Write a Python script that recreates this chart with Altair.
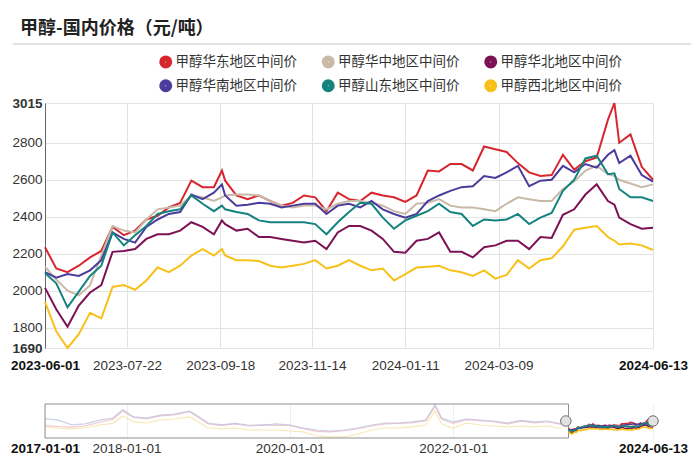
import altair as alt
import pandas as pd

# ---------------- data ----------------
dates = [
    "2023-06-01", "2023-06-08", "2023-06-15", "2023-06-22", "2023-06-29", "2023-07-06",
    "2023-07-13", "2023-07-20", "2023-07-27", "2023-08-03", "2023-08-10", "2023-08-17",
    "2023-08-24", "2023-08-31", "2023-09-07", "2023-09-14", "2023-09-19", "2023-09-21",
    "2023-09-28", "2023-10-05", "2023-10-12", "2023-10-19", "2023-10-26", "2023-11-02",
    "2023-11-09", "2023-11-16", "2023-11-23", "2023-11-30", "2023-12-07", "2023-12-14",
    "2023-12-21", "2023-12-28", "2024-01-04", "2024-01-11", "2024-01-18", "2024-01-25",
    "2024-02-01", "2024-02-08", "2024-02-15", "2024-02-22", "2024-02-29", "2024-03-07",
    "2024-03-14", "2024-03-21", "2024-03-28", "2024-04-04", "2024-04-11", "2024-04-18",
    "2024-04-25", "2024-05-02", "2024-05-09", "2024-05-16", "2024-05-20", "2024-05-23",
    "2024-05-30", "2024-06-06", "2024-06-13",
]
east = [2235, 2120, 2100, 2135, 2180, 2215, 2345, 2300, 2325, 2385, 2405, 2450, 2475, 2595,
        2560, 2560, 2650, 2595, 2515, 2495, 2515, 2485, 2460, 2475, 2515, 2505, 2430, 2530,
        2495, 2485, 2530, 2515, 2505, 2480, 2515, 2650, 2645, 2685, 2685, 2650, 2780, 2765,
        2750, 2690, 2640, 2620, 2625, 2735, 2655, 2700, 2720, 2925, 3015, 2800, 2845, 2670, 2600]
central = [2130, 2060, 2000, 1975, 2030, 2190, 2350, 2325, 2315, 2385, 2440, 2450, 2460, 2515,
           2505, 2485, 2505, 2515, 2520, 2520, 2515, 2485, 2460, 2450, 2460, 2460, 2440, 2470,
           2485, 2485, 2475, 2460, 2430, 2415, 2470, 2475, 2495, 2460, 2450, 2450, 2440, 2430,
           2470, 2505, 2495, 2485, 2485, 2550, 2590, 2650, 2675, 2630, 2620, 2600, 2580, 2560, 2575]
north = [2015, 1900, 1805, 1920, 1990, 2030, 2210, 2215, 2225, 2280, 2305, 2305, 2325, 2370,
         2345, 2305, 2380, 2360, 2325, 2335, 2290, 2290, 2280, 2270, 2260, 2270, 2225, 2315,
         2350, 2350, 2325, 2280, 2210, 2205, 2270, 2280, 2315, 2210, 2210, 2180, 2235, 2245,
         2270, 2270, 2225, 2290, 2285, 2410, 2440, 2520, 2575, 2485, 2465, 2395, 2360, 2335, 2340]
south = [2100, 2070, 2090, 2080, 2110, 2165, 2315, 2280, 2260, 2345, 2385, 2415, 2425, 2520,
         2495, 2530, 2575, 2515, 2460, 2465, 2475, 2470, 2450, 2460, 2470, 2470, 2415, 2460,
         2470, 2450, 2485, 2440, 2415, 2395, 2415, 2485, 2515, 2540, 2560, 2565, 2620, 2610,
         2640, 2675, 2565, 2595, 2600, 2675, 2640, 2685, 2665, 2735, 2760, 2690, 2730, 2625, 2590]
shandong = [2095, 2040, 1910, 1995, 2080, 2135, 2315, 2245, 2300, 2350, 2415, 2430, 2440, 2515,
            2470, 2430, 2460, 2440, 2425, 2415, 2380, 2370, 2370, 2370, 2370, 2360, 2305, 2370,
            2425, 2475, 2470, 2395, 2335, 2380, 2405, 2430, 2470, 2425, 2415, 2350, 2385, 2380,
            2385, 2415, 2360, 2395, 2420, 2540, 2600, 2715, 2730, 2630, 2635, 2550, 2505, 2505, 2485]
northwest = [1940, 1780, 1690, 1765, 1880, 1850, 2020, 2030, 2005, 2055, 2125, 2100, 2135, 2190,
             2225, 2190, 2225, 2190, 2165, 2165, 2160, 2135, 2125, 2135, 2145, 2165, 2120, 2135,
             2165, 2135, 2110, 2120, 2055, 2090, 2125, 2130, 2135, 2110, 2100, 2080, 2110, 2065,
             2085, 2165, 2120, 2165, 2175, 2240, 2330, 2340, 2350, 2290, 2270, 2250, 2255, 2245, 2220]

series_names = ["甲醇华东地区中间价", "甲醇华中地区中间价", "甲醇华北地区中间价",
                "甲醇华南地区中间价", "甲醇山东地区中间价", "甲醇西北地区中间价"]
series_values = [east, central, north, south, shandong, northwest]
series_colors = ["#d7262e", "#c9b9a8", "#7d1155", "#4b3c9c", "#14837f", "#f8c11a"]

# navigator history (2017 - 2023-05), faded lines
hist_dates = [
    "2017-01-01", "2017-03-01", "2017-05-01", "2017-07-01", "2017-09-01", "2017-11-01",
    "2017-12-15", "2018-02-01", "2018-04-01", "2018-06-01", "2018-08-01", "2018-10-10",
    "2018-11-15", "2019-01-01", "2019-03-01", "2019-05-01", "2019-07-01", "2019-09-01",
    "2019-11-01", "2020-01-01", "2020-03-01", "2020-05-01", "2020-07-01", "2020-09-01",
    "2020-11-01", "2021-01-01", "2021-03-01", "2021-05-01", "2021-07-01", "2021-09-01",
    "2021-10-12", "2021-11-10", "2022-01-01", "2022-03-01", "2022-05-01", "2022-07-01",
    "2022-09-01", "2022-11-01", "2023-01-01", "2023-03-01", "2023-05-01",
]
hist_east = [2500, 2400, 2350, 2450, 2800, 3100, 3850, 3250, 3150, 3400, 3500, 3800, 3300,
             2650, 2500, 2650, 2450, 2550, 2500, 2500, 2200, 1950, 1900, 2000, 2200, 2450,
             2650, 2700, 2750, 2950, 4300, 3100, 2700, 3050, 2950, 2850, 2650, 2900, 2750,
             2850, 2600]
hist_south = [3150, 3000, 2550, 2650, 3000, 3200, 4000, 3300, 3200, 3480, 3580, 3860, 3400,
              2730, 2550, 2690, 2545, 2500, 2640, 2545, 2260, 2075, 1980, 2075, 2260, 2545,
              2730, 2730, 2830, 3015, 4500, 3200, 2830, 3110, 3015, 2920, 2730, 2970, 2830,
              2920, 2640]
hist_nw = [2350, 2260, 2170, 2260, 2545, 2700, 3390, 2830, 2730, 3015, 3110, 3300, 2900,
           2260, 2170, 2260, 2075, 2075, 2075, 1980, 1890, 1510, 1420, 1420, 1700, 2075,
           2260, 2260, 2360, 2545, 3860, 2640, 2260, 2730, 2545, 2450, 2360, 2450, 2360,
           2450, 2170]
hist_names = ["h1", "h2", "h3"]
hist_colors = ["#eeb3bd", "#b7c2e0", "#f4e09c"]

main_ticks = ["2023-06-01", "2023-07-22", "2023-09-18", "2023-11-14",
              "2024-01-11", "2024-03-09", "2024-06-13"]
y_ticks = [1690, 1800, 2000, 2200, 2400, 2600, 2800, 3015]
nav_ticks = ["2017-01-01", "2018-01-01", "2020-01-01", "2022-01-01", "2024-06-13"]

title_text = "甲醇-国内价格（元/吨）"

# ---------------- tables ----------------
rows = []
for name, vals in zip(series_names, series_values):
    for d, v in zip(dates, vals):
        rows.append({"date": d, "series": name, "value": v})
main_df = pd.DataFrame(rows)
main_df["date"] = pd.to_datetime(main_df["date"])

hrows = []
for name, vals in zip(hist_names, [hist_east, hist_south, hist_nw]):
    for d, v in zip(hist_dates, vals):
        hrows.append({"date": d, "hs": name, "value": v})
hist_df = pd.DataFrame(hrows)
hist_df["date"] = pd.to_datetime(hist_df["date"])


def dt(s):
    y, m, d = (int(p) for p in s.split("-"))
    return alt.DateTime(year=y, month=m, date=d)


FONT = "Liberation Sans"
CJK = "Noto Sans CJK SC"
GRID = "#e3e3e3"


def bold_dates(a, b):
    f = "timeFormat(datum.value, '%Y-%m-%d')"
    return {"expr": f"{f} == '{a}' || {f} == '{b}' ? 'bold' : 'normal'"}


def bold_color_dates(a, b):
    f = "timeFormat(datum.value, '%Y-%m-%d')"
    return {"expr": f"{f} == '{a}' || {f} == '{b}' ? '#111' : '#333'"}


W = 608
H = 245
NAV_H = 34

main_x = alt.X(
    "date:T", title=None,
    scale=alt.Scale(domain=[dt(dates[0]), dt(dates[-1])], nice=False),
    axis=alt.Axis(values=[dt(s) for s in main_ticks], format="%Y-%m-%d",
                  labelFont=FONT, labelFontSize=13.5,
                  labelFontWeight=bold_dates("2023-06-01", "2024-06-13"),
                  labelColor=bold_color_dates("2023-06-01", "2024-06-13"),
                  labelPadding=10, labelOverlap=False, labelFlush=False,
                  grid=True, gridColor=GRID, domain=False, ticks=False),
)
main_y = alt.Y(
    "value:Q", title=None,
    scale=alt.Scale(domain=[1690, 3015], nice=False, zero=False),
    axis=alt.Axis(values=y_ticks, format="d", labelFont=FONT, labelFontSize=13.5,
                  labelFontWeight={"expr": "datum.value == 1690 || datum.value == 3015 ? 'bold' : 'normal'"},
                  labelColor="#333", labelPadding=3, labelOverlap=False,
                  grid=True, gridColor=GRID, domain=True, domainColor="#666",
                  ticks=False),
)

legend = alt.Legend(
    orient="none", legendX=114, legendY=-48, direction="horizontal", columns=3,
    title=None, symbolType="circle", symbolSize=36, symbolStrokeWidth=7,
    symbolOpacity=1,
    labelFont=CJK, labelFontSize=13.5, labelColor="#333", labelOffset=3,
    columnPadding=13.5, rowPadding=-16,
)

lines = alt.Chart(main_df).mark_line(strokeWidth=2).encode(
    x=main_x, y=main_y,
    color=alt.Color("series:N", sort=series_names,
                    scale=alt.Scale(domain=series_names, range=series_colors),
                    legend=legend),
)

sep = alt.Chart(pd.DataFrame({"k": [0]})).mark_rule(color="#c4c4c4", strokeWidth=1).encode(
    x=alt.value(-32), x2=alt.value(646), y=alt.value(-59)
)

main = alt.layer(sep, lines).properties(
    width=W, height=H,
    title=alt.TitleParams(title_text, anchor="start", frame="group", dx=-25, offset=6,
                          font=CJK, fontSize=18, fontWeight="bold", color="#222"),
)

# ---------------- navigator ----------------
nav_x = alt.X(
    "date:T", title=None,
    scale=alt.Scale(domain=[dt(nav_ticks[0]), dt(nav_ticks[-1])], nice=False),
    axis=alt.Axis(values=[dt(s) for s in nav_ticks], format="%Y-%m-%d",
                  labelFont=FONT, labelFontSize=13.5,
                  labelFontWeight=bold_dates("2017-01-01", "2024-06-13"),
                  labelColor=bold_color_dates("2017-01-01", "2024-06-13"),
                  labelPadding=3, labelOverlap=False, labelFlush=False,
                  grid=True, gridColor="#efefef", domain=False, ticks=False),
)
nav_y = alt.Y("value:Q", title=None,
              scale=alt.Scale(domain=[1320, 4520], nice=False, zero=False), axis=None)

nav_hist = alt.Chart(hist_df).mark_line(strokeWidth=1.2, opacity=0.75).encode(
    x=nav_x, y=nav_y,
    stroke=alt.Stroke("hs:N", scale=alt.Scale(domain=hist_names, range=hist_colors), legend=None),
)
nav_sel = alt.Chart(main_df).mark_line(strokeWidth=1.6).encode(
    x=nav_x, y=nav_y,
    color=alt.Color("series:N", sort=series_names,
                    scale=alt.Scale(domain=series_names, range=series_colors), legend=None),
)
box_df = pd.DataFrame({"start": pd.to_datetime(["2017-01-01"]), "end": pd.to_datetime(["2023-06-01"])})
nav_box = alt.Chart(box_df).mark_rect(fill="#ffffff", fillOpacity=0, stroke="#8f8f8f", strokeWidth=1).encode(
    x="start:T", x2="end:T", y=alt.value(0), y2=alt.value(NAV_H)
)
handle_df = pd.DataFrame({"date": pd.to_datetime(["2023-05-20", "2024-06-13"])})
nav_handles = alt.Chart(handle_df).mark_point(shape="circle", filled=True, size=110, fill="#e2e2e2",
                                             stroke="#6f6f6f", strokeWidth=1, opacity=1).encode(
    x="date:T", y=alt.value(NAV_H / 2)
)

nav = alt.layer(nav_hist, nav_box, nav_sel, nav_handles).properties(width=W, height=NAV_H)

chart = alt.vconcat(main, nav, spacing=29).properties(
    padding={"left": 2, "top": 11, "right": 0, "bottom": 0},
    background="#ffffff",
).configure_view(stroke=None)

chart.save("out.html", embed_options={"renderer": "svg", "actions": False})
